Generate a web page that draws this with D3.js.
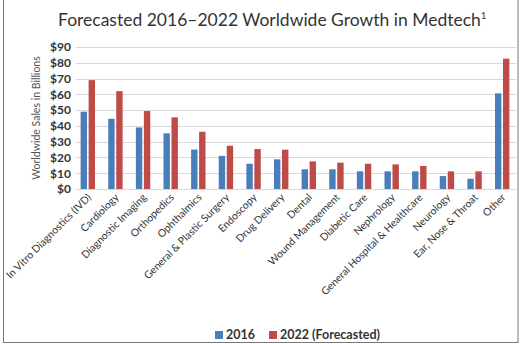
<!DOCTYPE html>
<html>
<head>
<meta charset="utf-8">
<script src="https://cdn.jsdelivr.net/npm/d3@7"></script>
<style>
  body { margin: 0; background: #fff; }
  text { font-family: Lato, "Open Sans", sans-serif; }
</style>
</head>
<body>
<div class="canvas"></div>
<script>
// Data
const categories = ['In Vitro Diagnostics (IVD)', 'Cardiology', 'Diagnostic Imaging', 'Orthopedics',
    'Ophthalmics', 'General & Plastic Surgery', 'Endoscopy', 'Drug Delivery', 'Dental',
    'Wound Management', 'Diabetic Care', 'Nephrology', 'General Hospital & Healthcare',
    'Neurology', 'Ear, Nose & Throat', 'Other']
const sales2016 = [49, 44.5, 39, 35.3, 25, 21, 16, 18.8, 12.5, 12.5, 11.2, 11.2, 11.2, 8.2, 6.5, 60.6]
const sales2022 = [69, 62, 49.4, 45.4, 36.3, 27.4, 25.3, 24.9, 17.5, 16.7, 16, 15.6, 14.6, 11.2, 11.2, 82.6]
const yTicks = [0, 10, 20, 30, 40, 50, 60, 70, 80, 90]
const seriesNames = ['2016', '2022 (Forecasted)']
const colors = ['#4a7ebb', '#be4b48']

const width = 520, height = 344

const svg = d3.select('.canvas')
    .append('svg')
        .attr('width', width)
        .attr('height', height)

// frame
svg.append('rect')
    .attr('x', 3.5).attr('y', -2)
    .attr('width', 514.5).attr('height', 344.5)
    .attr('fill', 'none')
    .attr('stroke', '#777')

const margin = {top: 47, left: 74, right: 516, bottom: 189}

const x = d3.scaleBand()
    .domain(categories)
    .range([margin.left, margin.right])

const y = d3.scaleLinear()
    .domain([0, 90])
    .range([margin.bottom, margin.top])

// gridlines
svg.append('g')
    .selectAll('line')
    .data(yTicks)
    .enter()
    .append('line')
        .attr('x1', 76)
        .attr('x2', margin.right)
        .attr('y1', d => Math.round(y(d)) + 0.5)
        .attr('y2', d => Math.round(y(d)) + 0.5)
        .attr('stroke', '#d9d9d9')
        .attr('stroke-width', 1.2)

// y axis labels
const yAxis = d3.axisLeft(y)
    .tickValues(yTicks)
    .tickFormat(d => '$' + d)
    .tickSize(0)
    .tickPadding(0)

const yG = svg.append('g')
    .attr('transform', 'translate(71, 0)')
    .call(yAxis)
yG.select('.domain').remove()
yG.selectAll('text')
    .attr('font-family', 'Lato, sans-serif')
    .attr('font-size', 12)
    .attr('font-weight', 'bold')
    .attr('fill', '#333')

// y title
svg.append('text')
    .attr('transform', 'translate(40, 118) rotate(-90)')
    .attr('text-anchor', 'middle')
    .attr('font-size', 10.5)
    .attr('fill', '#555')
    .text('Worldwide Sales in Billions')

// bars
const barW = 6.4, gap = 1.6
const groups = svg.append('g')
    .selectAll('g')
    .data(categories)
    .enter()
    .append('g')
        .attr('transform', d => `translate(${x(d) + x.bandwidth() / 2}, 0)`)

groups.append('rect')
    .attr('x', -barW - gap / 2)
    .attr('width', barW)
    .attr('y', (d, i) => y(sales2016[i]))
    .attr('height', (d, i) => y(0) - y(sales2016[i]))
    .attr('fill', colors[0])

groups.append('rect')
    .attr('x', gap / 2)
    .attr('width', barW)
    .attr('y', (d, i) => y(sales2022[i]))
    .attr('height', (d, i) => y(0) - y(sales2022[i]))
    .attr('fill', colors[1])

// x labels
svg.append('g')
    .selectAll('text')
    .data(categories)
    .enter()
    .append('text')
        .attr('transform', d => `translate(${x(d) + x.bandwidth() / 2 + 4}, 198) rotate(-45)`)
        .attr('text-anchor', 'end')
        .attr('font-size', 10.4)
        .attr('fill', '#333')
        .text(d => d)

// title
const title = svg.append('text')
    .attr('x', 58)
    .attr('y', 26)
    .attr('font-size', 17.5)
    .attr('fill', '#333')
    .text('Forecasted 2016\u20132022 Worldwide Growth in Medtech')
title.append('tspan')
    .attr('font-size', 9)
    .attr('dy', -7)
    .text('1')

// legend
const legend = svg.append('g')
const legendX = [215, 269]
seriesNames.forEach((name, i) => {
    legend.append('rect')
        .attr('x', legendX[i])
        .attr('y', 331)
        .attr('width', 8)
        .attr('height', 8)
        .attr('fill', colors[i])
    legend.append('text')
        .attr('x', legendX[i] + 11)
        .attr('y', 339)
        .attr('font-size', 12.5)
        .attr('font-weight', 'bold')
        .attr('fill', '#333')
        .text(name)
})
</script>
</body>
</html>
